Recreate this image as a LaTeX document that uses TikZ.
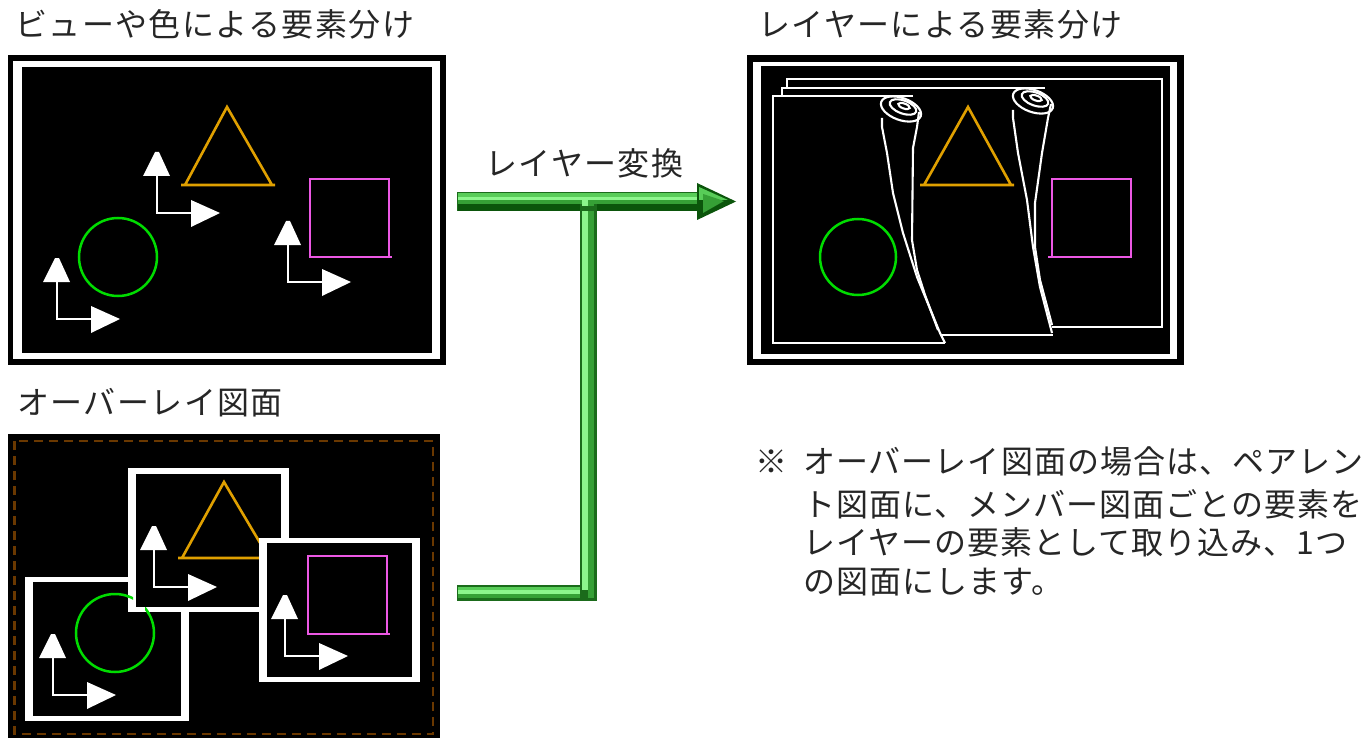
\documentclass[tikz,border=0pt]{standalone}
\usepackage{fontspec}
\setmainfont{Noto Sans CJK JP}[LetterSpace=4.5]
\newfontfamily\notefont{Noto Sans CJK JP}[LetterSpace=3.2]
\definecolor{amber}{HTML}{E0A000}
\definecolor{lime}{HTML}{00DC00}
\definecolor{pink}{HTML}{EC58E4}
\definecolor{brownd}{HTML}{6A3800}
\definecolor{gEdge}{HTML}{1B6B1B}
\definecolor{gMid}{HTML}{58CC58}
\definecolor{gLight}{HTML}{8CF58C}
\definecolor{gShade}{HTML}{36A036}
\definecolor{gDark}{HTML}{0B550B}
\newcommand{\axesmark}[2]{%
 \begin{scope}[shift={(#1,#2)}]
  \draw[wline] (0,-40) -- (0,0) -- (37,0);
  \fill[white] (-2,-61) -- (2,-61) -- (13,-37) -- (-14,-37) -- cycle;
  \fill[white] (34,-13) -- (63,0) -- (34,14) -- cycle;
 \end{scope}}
\newcommand{\ringframe}[8]{%
 \fill[white] (#1,#2) rectangle (#3,#4);
 \fill[black] (#5,#6) rectangle (#7,#8);}
\tikzset{
 wline/.style={draw=white,line width=2.4pt},
 thin line/.style={draw=white,line width=2.1pt},
 tri/.style={draw=amber,line width=2.6pt},
 circ/.style={draw=lime,line width=2.5pt},
 sq/.style={draw=pink,line width=2.8pt},
 label/.style={anchor=base west,inner sep=0pt,font=\fontsize{32}{32}\selectfont,text=black!85},
 note/.style={anchor=base west,inner sep=0pt,font=\notefont\fontsize{32}{32}\selectfont,text=black!85},
}
\begin{document}
\begin{tikzpicture}[x=1pt,y=-1pt]
\useasboundingbox (0,0) rectangle (1365,738);
% --- top-left panel
\fill[black] (8,55) rectangle (446,365);
\ringframe{13}{61}{440}{359}{22}{67}{432}{353}
\draw[tri] (181,185) -- (275,185) (185,185) -- (227,107) -- (272,185);
\draw[circ] (118,257) circle (39);
\draw[sq] (310,179) rectangle (389,257) (389,257) -- (392,257);
\axesmark{57}{319}
\axesmark{157}{213}
\axesmark{288}{282}
% --- bottom-left panel
\fill[black] (8,434) rectangle (440,738);
\draw[brownd,line width=2.4pt,dash pattern=on 9pt off 6pt] (14.5,441) rectangle (433,734);
\ringframe{25}{577}{189}{721}{33}{582}{181}{716}
\draw[circ] (115,633) circle (39);
\axesmark{53}{695}
\ringframe{128}{468}{289}{612}{136}{474}{281}{607}
\begin{scope}
 \clip (126,595) rectangle (133,604) (145,607) rectangle (150,615);
 \draw[circ] (115,633) circle (39);
\end{scope}
\draw[tri] (178,558) -- (272,558) (182,558) -- (224,482) -- (269,558);
\axesmark{154}{587}
\ringframe{259}{538}{420}{682}{267}{543}{412}{677}
\draw[sq] (308,556) rectangle (387,634) (387,634) -- (390,634);
\axesmark{285}{656}
% --- top-right panel
\fill[black] (747,55) rectangle (1184,365);
\ringframe{753}{62}{1177}{359}{761}{66}{1170}{354}
% sheets
\draw[thin line] (787,88) -- (787,79) -- (1162,79) -- (1162,327) -- (1052,327);
\draw[thin line] (782,96) -- (782,88) -- (1045,88);
\draw[thin line] (942,335) -- (1053,335);
\draw[thin line] (913,96) -- (773,96) -- (773,343) -- (945,343);
% first roll
\draw[thin line] (882,118) -- (882,127) -- (887,153) -- (893,193) -- (903,233) -- (917,277) -- (940,333) -- (945,343);
\draw[thin line] (919,112) -- (917,127) -- (913,148) -- (912,240) -- (917,270) -- (925,295) -- (938,330);
\draw[thin line,rotate around={-20:(901,109)}] (901,109) ellipse (21 and 11);
\draw[thin line,rotate around={-20:(903,107)}] (903,107) ellipse (14 and 6.5);
\draw[thin line,rotate around={-20:(904,106)}] (904,106) ellipse (6 and 2.5);
% second roll
\draw[thin line] (1013,110) -- (1013,118) -- (1018,153) -- (1027,200) -- (1033,247) -- (1040,287) -- (1052,333);
\draw[thin line] (1051,104) -- (1048,118) -- (1042,153) -- (1035,203) -- (1035,247) -- (1040,280) -- (1052,325);
\draw[thin line,rotate around={-20:(1033,101)}] (1033,101) ellipse (21 and 11);
\draw[thin line,rotate around={-20:(1035,99)}] (1035,99) ellipse (14 and 6.5);
\draw[thin line,rotate around={-20:(1036,98)}] (1036,98) ellipse (6 and 2.5);
\draw[tri] (920,185) -- (1014,185) (924,185) -- (968,107) -- (1011,185);
\draw[circ] (858,257) circle (38);
\draw[sq] (1131,179) rectangle (1052,257) (1052,257) -- (1048,257);
% --- green connector
\coordinate (lowerL) at (457,585);
\coordinate (mainL) at (457,192);
\fill[gEdge] (lowerL) rectangle (597,601);
\fill[gMid] (458,587) rectangle (582,590);
\fill[gLight] (458,590) rectangle (588,594);
\fill[gShade] (458,594) rectangle (594,598);
\fill[gEdge] (580,201) rectangle (597,601);
\fill[gLight] (582,201) rectangle (588,590);
\fill[gShade] (588,201) rectangle (594,598);
\fill[gEdge] (mainL) rectangle (697,211);
\fill[gMid] (458,193) rectangle (697,197);
\fill[gLight] (458,197) rectangle (697,200);
\fill[gShade] (458,200) rectangle (697,204);
\fill[gDark] (458,204) rectangle (580,211);
\fill[gDark] (597,204) rectangle (697,211);
\fill[gLight] (582,197) rectangle (588,206);
\fill[gShade] (588,200) rectangle (594,206);
\fill[gEdge] (580,204) rectangle (582,211);
\fill[gEdge] (594,204) rectangle (597,211);
\fill[gDark] (697,183) -- (736,201.5) -- (697,220) -- cycle;
\fill[gMid] (699,187) -- (728,200) -- (699,200) -- cycle;
\fill[gShade] (703,194) -- (724,201) -- (703,213) -- cycle;
% --- text
\node[label] (t1) at (15,37) {ビューや色による要素分け};
\node[label] (t2) at (758,37) {レイヤーによる要素分け};
\node[label] (t3) at (17,414) {オーバーレイ図面};
\node[label] (t4) at (485,176) {レイヤー変換};
\node[note] (t5) at (755,473) {※};
\node[note] (t6) at (803,473) {オーバーレイ図面の場合は、ペアレン};
\node[note] (t7) at (803,516) {ト図面に、メンバー図面ごとの要素を};
\node[note] (t8) at (803,554) {レイヤーの要素として取り込み、1つ};
\node[note] (t9) at (803,593) {の図面にします。};
\end{tikzpicture}
\end{document}
